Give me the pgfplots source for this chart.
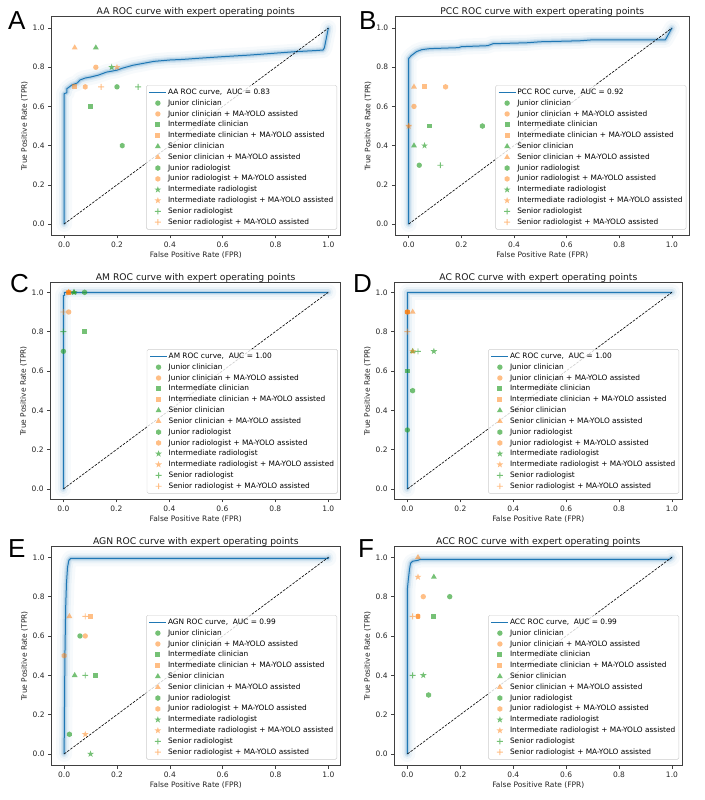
\documentclass[border=0pt]{standalone}
\usepackage{fontspec}
\setmainfont{DejaVu Sans}
\newfontfamily\letterfont{Liberation Sans}
\usepackage{pgfplots}
\pgfplotsset{compat=1.18}

\definecolor{tabblue}{RGB}{31,119,180}
\definecolor{tgreen}{RGB}{44,160,44}
\definecolor{torange}{RGB}{255,127,14}

\pgfdeclareplotmark{mcirc}{\pgfpathcircle{\pgfpointorigin}{\pgfplotmarksize}\pgfusepathqfill}
\pgfdeclareplotmark{msq}{\pgfpathrectangle{\pgfpoint{-0.9\pgfplotmarksize}{-0.9\pgfplotmarksize}}{\pgfpoint{1.8\pgfplotmarksize}{1.8\pgfplotmarksize}}\pgfusepathqfill}
\pgfdeclareplotmark{mplus}{%
 \pgfpathrectangle{\pgfpoint{-1.1\pgfplotmarksize}{-0.45pt}}{\pgfpoint{2.2\pgfplotmarksize}{0.9pt}}%
 \pgfpathrectangle{\pgfpoint{-0.45pt}{-1.1\pgfplotmarksize}}{\pgfpoint{0.9pt}{2.2\pgfplotmarksize}}%
 \pgfusepathqfill}
\pgfdeclareplotmark{mtri}{%
 \pgfpathmoveto{\pgfpointpolar{90}{1.25\pgfplotmarksize}}%
 \pgfpathlineto{\pgfpointpolar{210}{1.25\pgfplotmarksize}}%
 \pgfpathlineto{\pgfpointpolar{330}{1.25\pgfplotmarksize}}%
 \pgfpathclose\pgfusepathqfill}
\pgfdeclareplotmark{mhex}{%
 \pgfpathmoveto{\pgfpointpolar{90}{1.05\pgfplotmarksize}}%
 \pgfpathlineto{\pgfpointpolar{150}{1.05\pgfplotmarksize}}%
 \pgfpathlineto{\pgfpointpolar{210}{1.05\pgfplotmarksize}}%
 \pgfpathlineto{\pgfpointpolar{270}{1.05\pgfplotmarksize}}%
 \pgfpathlineto{\pgfpointpolar{330}{1.05\pgfplotmarksize}}%
 \pgfpathlineto{\pgfpointpolar{30}{1.05\pgfplotmarksize}}%
 \pgfpathclose\pgfusepathqfill}
\pgfdeclareplotmark{mstar}{%
 \pgfpathmoveto{\pgfpointpolar{90}{1.3\pgfplotmarksize}}%
 \pgfpathlineto{\pgfpointpolar{126}{0.52\pgfplotmarksize}}%
 \pgfpathlineto{\pgfpointpolar{162}{1.3\pgfplotmarksize}}%
 \pgfpathlineto{\pgfpointpolar{198}{0.52\pgfplotmarksize}}%
 \pgfpathlineto{\pgfpointpolar{234}{1.3\pgfplotmarksize}}%
 \pgfpathlineto{\pgfpointpolar{270}{0.52\pgfplotmarksize}}%
 \pgfpathlineto{\pgfpointpolar{306}{1.3\pgfplotmarksize}}%
 \pgfpathlineto{\pgfpointpolar{342}{0.52\pgfplotmarksize}}%
 \pgfpathlineto{\pgfpointpolar{18}{1.3\pgfplotmarksize}}%
 \pgfpathlineto{\pgfpointpolar{54}{0.52\pgfplotmarksize}}%
 \pgfpathclose\pgfusepathqfill}

\pgfplotsset{
 rocax/.style={
  scale only axis,
  axis line style={black!75, line width=0.6pt},
  tick align=outside, tick pos=left,
  major tick length=3.5pt,
  every tick/.style={black!75, line width=0.6pt},
  xtick={0,0.2,0.4,0.6,0.8,1}, ytick={0,0.2,0.4,0.6,0.8,1},
  xticklabels={0.0,0.2,0.4,0.6,0.8,1.0}, yticklabels={0.0,0.2,0.4,0.6,0.8,1.0},
  ticklabel style={font=\fontsize{7.5}{9}\selectfont, text=black!85},
  label style={font=\fontsize{7.5}{9}\selectfont, text=black!85},
  xlabel={False Positive Rate (FPR)}, ylabel={True Positive Rate (TPR)},
  xlabel style={yshift=3pt}, ylabel style={yshift=-2pt},
  title style={font=\fontsize{9.2}{11}\selectfont, text=black!90, yshift=-9pt},
  legend cell align=left,
  legend style={at={(0.99,0.025)}, anchor=south east, draw=black!20, rounded corners=1.5pt,
    fill=white, fill opacity=0.8, text opacity=1, font=\fontsize{7.4}{8.6}\selectfont,
    row sep=1.5pt, inner sep=2.5pt, nodes={inner sep=1.1pt}},
 },
 gm/.style={only marks, draw=none, fill=tgreen, mark size=2.7pt, mark options={draw=none, fill=tgreen, fill opacity=0.65}},
 om/.style={only marks, draw=none, fill=torange, mark size=2.7pt, mark options={draw=none, fill=torange, fill opacity=0.5}},
}

\newcommand{\rocplot}[2]{%
 \addplot[draw=tabblue, line width=16pt, draw opacity=0.035, line cap=round, line join=round, forget plot] coordinates {#1};
 \addplot[draw=tabblue, line width=10pt, draw opacity=0.06, line cap=round, line join=round, forget plot] coordinates {#1};
 \addplot[draw=tabblue, line width=6pt, draw opacity=0.11, line cap=round, line join=round, forget plot] coordinates {#1};
 \addplot[draw=tabblue, line width=3.5pt, draw opacity=0.18, line cap=round, line join=round, forget plot] coordinates {#1};
 \addplot[draw=tabblue, line width=1pt, line join=round] coordinates {#1};
 \addlegendentry{#2}
 \addplot[draw=black, line width=0.6pt, dash pattern=on 2.6pt off 1.3pt, forget plot] coordinates {(0,0)(1,1)};
}

\newcommand{\experts}[6]{%
 \addplot[gm, mark=mcirc] coordinates {#1}; \addlegendentry{Junior clinician}
 \addplot[om, mark=mcirc] coordinates {#2}; \addlegendentry{Junior clinician + MA-YOLO assisted}
 \addplot[gm, mark=msq] coordinates {#3}; \addlegendentry{Intermediate clinician}
 \addplot[om, mark=msq] coordinates {#4}; \addlegendentry{Intermediate clinician + MA-YOLO assisted}
 \addplot[gm, mark=mtri] coordinates {#5}; \addlegendentry{Senior clinician}
 \addplot[om, mark=mtri] coordinates {#6}; \addlegendentry{Senior clinician + MA-YOLO assisted}
 \expertsb}
\newcommand{\expertsb}[6]{%
 \addplot[gm, mark=mhex] coordinates {#1}; \addlegendentry{Junior radiologist}
 \addplot[om, mark=mhex] coordinates {#2}; \addlegendentry{Junior radiologist + MA-YOLO assisted}
 \addplot[gm, mark=mstar] coordinates {#3}; \addlegendentry{Intermediate radiologist}
 \addplot[om, mark=mstar] coordinates {#4}; \addlegendentry{Intermediate radiologist + MA-YOLO assisted}
 \addplot[gm, mark=mplus] coordinates {#5}; \addlegendentry{Senior radiologist}
 \addplot[om, mark=mplus] coordinates {#6}; \addlegendentry{Senior radiologist + MA-YOLO assisted}
}

\begin{document}
\begin{tikzpicture}
\path[use as bounding box] (0,0) rectangle (704pt,800pt);

% ---------- A ----------
\begin{axis}[rocax, at={(51.7pt,565pt)}, anchor=south west, width=288.3pt, height=218.3pt,
  xmin=-0.047, xmax=1.044, ymin=-0.056, ymax=1.058,
  title={AA ROC curve with expert operating points}]
\rocplot{(0,0)(0,0.665)(0.01,0.67)(0.01,0.69)(0.02,0.70)(0.03,0.71)(0.05,0.72)(0.06,0.735)(0.08,0.745)(0.1,0.75)(0.13,0.76)(0.16,0.775)(0.2,0.785)(0.22,0.795)(0.26,0.81)(0.3,0.82)(0.34,0.83)(0.4,0.837)(0.45,0.84)(0.5,0.845)(0.6,0.854)(0.7,0.862)(0.8,0.872)(0.88,0.88)(0.95,0.885)(0.98,0.888)(0.985,0.9)(1,1)}{AA ROC curve,\ \ AUC = 0.83}
\experts{(0.2,0.7)}{(0.12,0.8)}{(0.1,0.6)}{(0.04,0.7)}{(0.12,0.9)}{(0.04,0.9)}
        {(0.22,0.4)}{(0.08,0.7)}{(0.18,0.8)}{(0.2,0.8)}{(0.28,0.7)}{(0.14,0.7)}
\end{axis}

% ---------- B ----------
\begin{axis}[rocax, at={(395.3pt,565pt)}, anchor=south west, width=294pt, height=218.3pt,
  xmin=-0.051, xmax=1.066, ymin=-0.056, ymax=1.058,
  title={PCC ROC curve with expert operating points}]
\rocplot{(0,0)(0,0.845)(0.01,0.86)(0.02,0.87)(0.03,0.88)(0.05,0.89)(0.08,0.895)(0.19,0.9)(0.2,0.905)(0.3,0.91)(0.32,0.92)(0.45,0.925)(0.5,0.93)(0.65,0.935)(0.7,0.94)(0.975,0.94)(1,1)}{PCC ROC curve,\ \ AUC = 0.92}
\experts{(0.04,0.3)}{(0.02,0.6)}{(0.08,0.5)}{(0.06,0.7)}{(0.02,0.4)}{(0.02,0.7)}
        {(0.28,0.5)}{(0.14,0.7)}{(0.06,0.4)}{(0,0.5)}{(0.12,0.3)}{(0,0.5)}
\end{axis}

% ---------- C ----------
\begin{axis}[rocax, at={(50.7pt,301pt)}, anchor=south west, width=290pt, height=216.3pt,
  xmin=-0.048, xmax=1.047, ymin=-0.051, ymax=1.049,
  title={AM ROC curve with expert operating points}]
\rocplot{(0,0)(0,0.985)(0.005,0.985)(0.005,1)(1,1)}{AM ROC curve,\ \ AUC = 1.00}
\experts{(0,0.7)}{(0.02,0.9)}{(0.08,0.8)}{(0.02,1.0)}{(0.04,1.0)}{(0.02,1.0)}
        {(0.08,1.0)}{(0.02,1.0)}{(0.04,1.0)}{(0.02,1.0)}{(0,0.8)}{(0,0.9)}
\end{axis}

% ---------- D ----------
\begin{axis}[rocax, at={(394.7pt,301pt)}, anchor=south west, width=287.3pt, height=216.3pt,
  xmin=-0.048, xmax=1.038, ymin=-0.051, ymax=1.049,
  title={AC ROC curve with expert operating points}]
\rocplot{(0,0)(0,1)(1,1)}{AC ROC curve,\ \ AUC = 1.00}
\experts{(0,0.3)}{(0,0.9)}{(0,0.6)}{(0,0.9)}{(0.02,0.7)}{(0.02,0.9)}
        {(0.02,0.5)}{(0,0.9)}{(0.1,0.7)}{(0.02,0.7)}{(0.04,0.7)}{(0,0.8)}
\end{axis}

% ---------- E ----------
\begin{axis}[rocax, at={(51.7pt,35pt)}, anchor=south west, width=288.3pt, height=218.3pt,
  xmin=-0.047, xmax=1.044, ymin=-0.056, ymax=1.054,
  title={AGN ROC curve with expert operating points}]
\rocplot{(0,0)(0.003,0.5)(0.006,0.75)(0.009,0.87)(0.013,0.95)(0.018,0.985)(0.025,0.995)(1,0.995)(1,1)}{AGN ROC curve,\ \ AUC = 0.99}
\experts{(0.06,0.6)}{(0.08,0.6)}{(0.12,0.4)}{(0.1,0.7)}{(0.04,0.4)}{(0.02,0.7)}
        {(0.02,0.1)}{(0,0.5)}{(0.1,0.0)}{(0.08,0.1)}{(0.08,0.4)}{(0.08,0.7)}
\end{axis}

% ---------- F ----------
\begin{axis}[rocax, at={(394.7pt,35pt)}, anchor=south west, width=287.3pt, height=218.3pt,
  xmin=-0.048, xmax=1.038, ymin=-0.056, ymax=1.054,
  title={ACC ROC curve with expert operating points}]
\rocplot{(0,0)(0,0.84)(0.003,0.88)(0.008,0.94)(0.012,0.97)(0.02,0.98)(0.04,0.985)(0.05,0.99)(0.99,0.99)(1,1)}{ACC ROC curve,\ \ AUC = 0.99}
\experts{(0.16,0.8)}{(0.06,0.8)}{(0.1,0.7)}{(0.04,0.7)}{(0.1,0.9)}{(0.04,1.0)}
        {(0.08,0.3)}{(0.04,0.7)}{(0.06,0.4)}{(0.04,0.9)}{(0.02,0.4)}{(0.02,0.7)}
\end{axis}

\begin{scope}[every node/.style={anchor=base west, inner sep=0pt, font=\letterfont\fontsize{26}{28}\selectfont}]
\node at (8pt,770pt) {A};
\node at (359pt,770pt) {B};
\node at (10pt,507pt) {C};
\node at (353pt,507pt) {D};
\node at (8pt,242pt) {E};
\node at (358pt,242pt) {F};
\end{scope}
\end{tikzpicture}
\end{document}
